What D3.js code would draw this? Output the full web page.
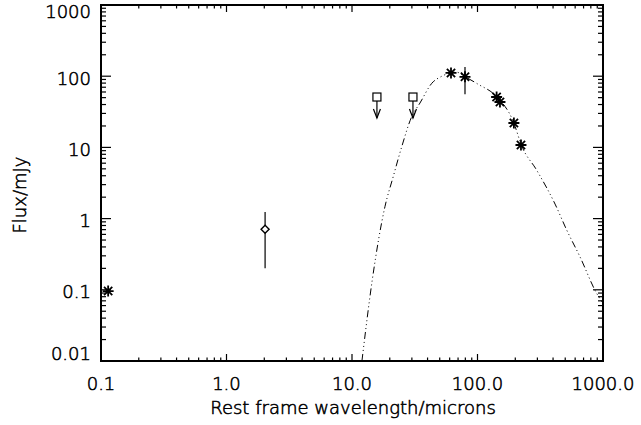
<!DOCTYPE html>
<html lang="en">
<head>
    <meta charset="UTF-8">
    <script src="https://d3js.org/d3.v7.min.js"></script>
    <style>
        body { margin: 0; background: #fff; }
        text { font-family: "DejaVu Sans", sans-serif; font-weight: 200; fill: #000; stroke: #000; stroke-width: 0.55px; }
    </style>
</head>
<body>
    <svg id="sed" width="641" height="425"></svg>

    <script>
        // axis ticks
        const xTickValues = [0.1, 1, 10, 100, 1000];
        const xTickLabels = ["0.1", "1.0", "10.0", "100.0", "1000.0"];
        const yTickValues = [0.01, 0.1, 1, 10, 100, 1000];
        const yTickLabels = ["0.01", "0.1", "1", "10", "100", "1000"];

        // detections (asterisks)
        const starWl = [0.114, 61.5, 79.5, 142, 151, 195, 222];
        const starFlux = [0.096, 111, 98, 51, 43.4, 22, 10.8];
        // error bar on the 80 micron point
        const starErrWl = [79.5];
        const starErrLo = [56];
        const starErrHi = [135];

        // near-IR point (diamond) with its error bar
        const diamondWl = [2.03];
        const diamondFlux = [0.71];
        const diamondLo = [0.2];
        const diamondHi = [1.24];

        // upper limits (squares with arrows)
        const limitWl = [15.8, 30.6];
        const limitFlux = [51, 51];

        // model curve
        const modelWl = [12.0, 14.5, 18.3, 21.3, 24.9, 29.9, 34.8, 43.2, 52, 60.4, 68, 79.5, 100, 142, 193, 225, 296, 415, 514, 656, 891, 1000];
        const modelFlux = [0.01, 0.137, 1.47, 3.88, 10.2, 27, 42, 79.4, 100, 111, 114, 98.4, 78, 51.5, 23, 10.5, 4.8, 1.6, 0.69, 0.29, 0.089, 0.065];

        const svg = d3.select("#sed");
        const margin = {left: 101, top: 5, right: 38, bottom: 64};
        const W = 641 - margin.left - margin.right;
        const H = 425 - margin.top - margin.bottom;

        const x = d3.scaleLog().domain([0.1, 1000]).range([0, W]);
        const y = d3.scaleLog().domain([0.01, 1000]).range([H, 0]);

        const g = svg.append("g").attr("transform", `translate(${margin.left},${margin.top})`);

        g.append("clipPath").attr("id", "clip")
            .append("rect").attr("width", W).attr("height", H);

        // minor/major ticks, IDL style (inward on all four sides)
        function minorTicks(lo, hi) {
            const out = [];
            for (let d = lo; d < hi; d *= 10) {
                for (let k = 2; k <= 9; k++) out.push(d * k);
            }
            return out;
        }
        const xMinor = minorTicks(0.1, 1000);
        const yMinor = minorTicks(0.01, 1000);

        const tickG = g.append("g").attr("stroke", "#000").attr("stroke-width", 1.2);
        xTickValues.forEach(v => {
            tickG.append("line").attr("x1", x(v)).attr("x2", x(v)).attr("y1", H).attr("y2", H - 7);
            tickG.append("line").attr("x1", x(v)).attr("x2", x(v)).attr("y1", 0).attr("y2", 7);
        });
        xMinor.forEach(v => {
            tickG.append("line").attr("x1", x(v)).attr("x2", x(v)).attr("y1", H).attr("y2", H - 3.5);
            tickG.append("line").attr("x1", x(v)).attr("x2", x(v)).attr("y1", 0).attr("y2", 3.5);
        });
        yTickValues.forEach(v => {
            tickG.append("line").attr("x1", 0).attr("x2", 10).attr("y1", y(v)).attr("y2", y(v));
            tickG.append("line").attr("x1", W).attr("x2", W - 10).attr("y1", y(v)).attr("y2", y(v));
        });
        yMinor.forEach(v => {
            tickG.append("line").attr("x1", 0).attr("x2", 5).attr("y1", y(v)).attr("y2", y(v));
            tickG.append("line").attr("x1", W).attr("x2", W - 5).attr("y1", y(v)).attr("y2", y(v));
        });

        // frame
        g.append("rect").attr("width", W).attr("height", H)
            .attr("fill", "none").attr("stroke", "#000").attr("stroke-width", 2);

        // tick labels
        xTickValues.forEach((v, i) => {
            g.append("text").attr("x", x(v)).attr("y", H + 29)
                .attr("text-anchor", "middle").attr("font-size", 18)
                .text(xTickLabels[i]);
        });
        yTickValues.forEach((v, i) => {
            const cy = Math.min(Math.max(y(v) + 2, 7), H - 7);
            g.append("text").attr("x", -10).attr("y", cy)
                .attr("dy", "0.36em")
                .attr("text-anchor", "end").attr("font-size", 18)
                .text(yTickLabels[i]);
        });

        // axis titles
        svg.append("text").attr("x", margin.left + W / 2 + 1).attr("y", 414)
            .attr("text-anchor", "middle").attr("font-size", 18)
            .text("Rest frame wavelength/microns");
        svg.append("text")
            .attr("transform", "translate(26,195) rotate(-90)")
            .attr("text-anchor", "middle").attr("font-size", 18)
            .text("Flux/mJy");

        // model curve, dash-dot-dot-dot
        const modelData = modelWl.map((w, i) => [w, modelFlux[i]]);
        const line = d3.line().x(d => x(d[0])).y(d => y(d[1])).curve(d3.curveMonotoneX);
        g.append("path").datum(modelData)
            .attr("clip-path", "url(#clip)")
            .attr("d", line)
            .attr("fill", "none").attr("stroke", "#000").attr("stroke-width", 1)
            .attr("stroke-dasharray", "7,3,1,3,1,3,1,3");

        // error bars
        const errG = g.append("g").attr("stroke", "#000").attr("stroke-width", 1.2);
        starErrWl.forEach((w, i) => {
            errG.append("line").attr("x1", x(w)).attr("x2", x(w))
                .attr("y1", y(starErrLo[i])).attr("y2", y(starErrHi[i]));
        });
        diamondWl.forEach((w, i) => {
            errG.append("line").attr("x1", x(w)).attr("x2", x(w))
                .attr("y1", y(diamondLo[i])).attr("y2", y(diamondHi[i]));
        });

        // asterisks
        const s = 5.5;
        const starPath = `M${-s},0L${s},0M0,${-s}L0,${s}M${-s*0.75},${-s*0.75}L${s*0.75},${s*0.75}M${-s*0.75},${s*0.75}L${s*0.75},${-s*0.75}`;
        g.append("g").selectAll("path").data(starWl).enter().append("path")
            .attr("transform", (d, i) => `translate(${x(d)},${y(starFlux[i])})`)
            .attr("d", starPath)
            .attr("fill", "none").attr("stroke", "#000").attr("stroke-width", 1.8);

        // diamond
        g.append("g").selectAll("path").data(diamondWl).enter().append("path")
            .attr("transform", (d, i) => `translate(${x(d)},${y(diamondFlux[i])})`)
            .attr("d", "M0,-4L4,0L0,4L-4,0Z")
            .attr("fill", "#fff").attr("stroke", "#000").attr("stroke-width", 1.4);

        // upper limits: square + downward arrow
        const limG = g.append("g").attr("stroke", "#000").attr("fill", "none");
        limitWl.forEach((w, i) => {
            const px = x(w), py = y(limitFlux[i]);
            limG.append("line").attr("x1", px).attr("x2", px).attr("y1", py).attr("y2", py + 21)
                .attr("stroke-width", 1.2);
            limG.append("path").attr("d", `M${px - 3.5},${py + 12}L${px},${py + 21}L${px + 3.5},${py + 12}`)
                .attr("stroke-width", 1.2);
            limG.append("rect").attr("x", px - 4).attr("y", py - 4).attr("width", 8).attr("height", 8)
                .attr("fill", "#fff").attr("stroke-width", 1.2);
        });
    </script>
</body>
</html>
